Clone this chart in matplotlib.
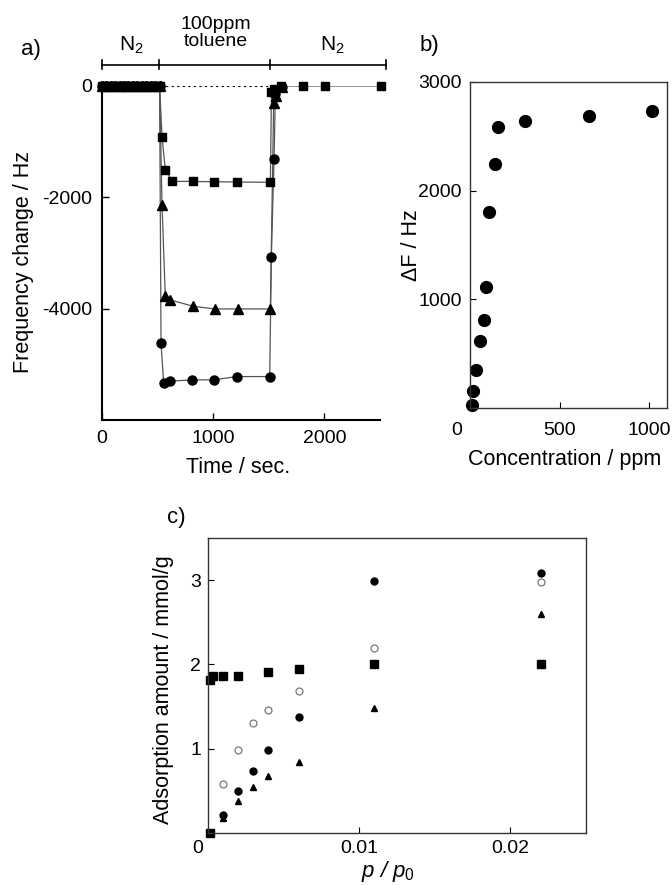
import matplotlib
matplotlib.use("Agg")
import matplotlib.pyplot as plt
from matplotlib.transforms import ScaledTranslation

plt.rcParams["font.family"] = ["Liberation Sans", "DejaVu Sans"]
plt.rcParams["mathtext.fontset"] = "custom"
plt.rcParams["mathtext.rm"] = "Liberation Sans"
plt.rcParams["mathtext.it"] = "Liberation Sans:italic"
plt.rcParams["axes.unicode_minus"] = False

# a) frequency change vs time (N2 purge, 100 ppm toluene, N2 purge)
t_n2 = [0, 40, 80, 120, 160, 200, 240, 280, 320, 360, 400, 440, 480, 520]
f_n2 = [0, 0, 0, 0, 0, 0, 0, 0, 0, 0, 0, 0, 0, 0]

t_sq = [542, 571, 634, 821, 1009, 1214, 1515, 1525, 1545, 1615, 1810, 2010, 2505]
f_sq = [-910, -1500, -1712, -1715, -1720, -1725, -1730, -110, -60, 0, 0, 0, 0]

t_tri = [542, 571, 616, 824, 1018, 1226, 1515, 1545, 1565, 1620]
f_tri = [-2144, -3766, -3843, -3958, -4005, -4005, -4005, -300, -180, -20]

t_cir = [533, 556, 610, 815, 1009, 1211, 1509, 1524, 1548, 1560, 1620]
f_cir = [-4625, -5327, -5303, -5279, -5279, -5220, -5220, -3076, -1315, -150, -20]

phase_edges = [0, 515, 1515, 2550]

# b) frequency change vs concentration
conc = [10, 17, 36, 54, 80, 92, 107, 139, 157, 309, 663, 1015]
delta_f = [30, 160, 350, 620, 810, 1110, 1800, 2245, 2585, 2640, 2685, 2735]

# c) adsorption isotherms
p_sq = [0.0001, 0.0001, 0.0003, 0.001, 0.002, 0.004, 0.006, 0.011, 0.022]
q_sq = [0.0, 1.81, 1.86, 1.86, 1.86, 1.91, 1.95, 2.0, 2.0]
p_pts = [0.001, 0.002, 0.003, 0.004, 0.006, 0.011, 0.022]
q_open = [0.58, 0.99, 1.30, 1.46, 1.68, 2.19, 2.98]
q_fill = [0.21, 0.50, 0.74, 0.98, 1.38, 2.99, 3.08]
q_tri = [0.18, 0.38, 0.54, 0.68, 0.84, 1.48, 2.60]

W, H = 672, 885
fig = plt.figure(figsize=(W / 100, H / 100), dpi=100)


def box(l, t, r, b):
    return [l / W, 1 - b / H, (r - l) / W, (b - t) / H]


def shift_first_xlabel(ax, dx):
    lbl = ax.get_xticklabels()[0]
    lbl.set_transform(lbl.get_transform() + ScaledTranslation(dx, 0, fig.dpi_scale_trans))


line_c = "#555555"

# ---- panel a
ax = fig.add_axes(box(101.7, 86, 380, 420))
for t, f, mk, ms in [(t_cir, f_cir, "o", 6.5), (t_tri, f_tri, "^", 6.5), (t_sq, f_sq, "s", 6)]:
    ax.plot(t_n2 + t, f_n2 + f, color=line_c, lw=0.9, zorder=2)
    ax.plot(t_n2 + t, f_n2 + f, ls="none", marker=mk, ms=ms, color="black",
            clip_on=False, zorder=3)
ax.plot([t_n2[-1], t_sq[6]], [0, 0], ls=(0, (2, 3)), color="black", lw=0.8, zorder=1)
ax.set_xlim(0, 2500)
ax.set_ylim(-6000, 0)
ax.set_xticks([0, 1000, 2000])
ax.set_yticks([0, -2000, -4000])
ax.spines[["top", "right"]].set_visible(False)
for s in ["left", "bottom"]:
    ax.spines[s].set_linewidth(1.5)
ax.tick_params(direction="in", length=5, width=1, labelsize=14, pad=7)

# phase bracket above panel a
ax.plot([phase_edges[0], phase_edges[-1]], [380, 380], color="black", lw=1.2,
        clip_on=False)
for e in phase_edges:
    ax.plot([e, e], [300, 460], color="black", lw=1.2, clip_on=False)
fig.text(131 / W, 1 - 45 / H, "N$_2$", ha="center", va="center", fontsize=15)
fig.text(216 / W, 1 - 33 / H, "100ppm\ntoluene", ha="center", va="center",
         fontsize=14, linespacing=1.0)
fig.text(332 / W, 1 - 45 / H, "N$_2$", ha="center", va="center", fontsize=15)

fig.text(31 / W, 1 - 50 / H, "a)", ha="center", va="center", fontsize=16)
fig.text(24 / W, 1 - 262 / H, "Frequency change / Hz", rotation=90,
         ha="center", va="center", fontsize=15.5)
fig.text(238 / W, 1 - 467 / H, "Time / sec.", ha="center", va="center", fontsize=15.5)

# ---- panel b
bx = fig.add_axes(box(470, 82, 667, 408))
bx.plot(conc, delta_f, ls="none", marker="o", ms=8.5, color="black", clip_on=False)
bx.set_xlim(0, 1100)
bx.set_ylim(0, 3000)
bx.set_xticks([0, 500, 1000])
bx.set_yticks([1000, 2000, 3000])
for s in bx.spines.values():
    s.set_linewidth(1.0)
    s.set_color("#333333")
bx.tick_params(direction="in", length=4, width=0.8, labelsize=14, pad=6)
bx.tick_params(axis="x", pad=10)
shift_first_xlabel(bx, -0.13)
fig.text(429 / W, 1 - 46 / H, "b)", ha="center", va="center", fontsize=16)
fig.text(411 / W, 1 - 245 / H, "ΔF / Hz", rotation=90, ha="center",
         va="center", fontsize=15.5)
fig.text(565 / W, 1 - 460 / H, "Concentration / ppm", ha="center",
         va="center", fontsize=15.5)

# ---- panel c
cx = fig.add_axes(box(208, 538, 586, 833))
cx.plot(p_pts, q_open, ls="none", marker="o", ms=5, mfc="white", mec="#777777",
        mew=0.9, clip_on=False)
cx.plot(p_pts, q_fill, ls="none", marker="o", ms=5, color="black", clip_on=False)
cx.plot(p_pts, q_tri, ls="none", marker="^", ms=5, color="black", clip_on=False)
cx.plot(p_sq, q_sq, ls="none", marker="s", ms=5.5, color="black", clip_on=False)
cx.set_xlim(0, 0.025)
cx.set_ylim(0, 3.5)
cx.set_xticks([0, 0.01, 0.02], ["0", "0.01", "0.02"])
cx.set_yticks([1, 2, 3])
for s in cx.spines.values():
    s.set_linewidth(1.0)
    s.set_color("#333333")
cx.tick_params(direction="in", length=4, width=0.8, labelsize=14, pad=5)
shift_first_xlabel(cx, -0.1)
fig.text(176 / W, 1 - 518 / H, "c)", ha="center", va="center", fontsize=16)
fig.text(163 / W, 1 - 690 / H, "Adsorption amount / mmol/g", rotation=90,
         ha="center", va="center", fontsize=15.5)
fig.text(388 / W, 1 - 871 / H, "$p$ / $p_0$", ha="center", va="center",
         fontsize=16, style="italic")

fig.savefig("out.png", dpi=100)
